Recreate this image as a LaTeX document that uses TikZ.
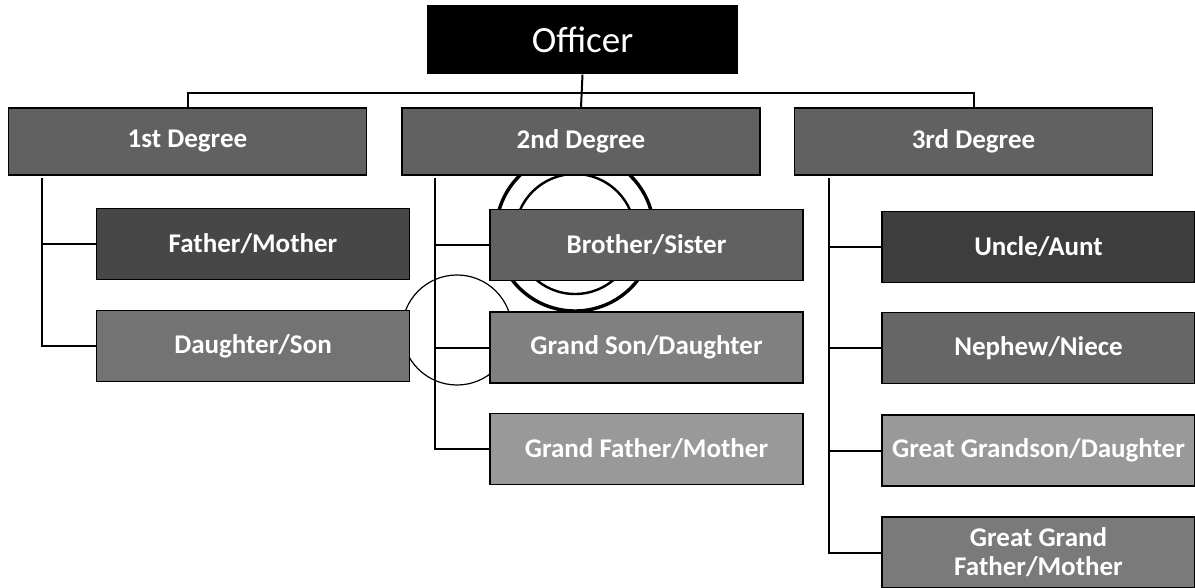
\documentclass[tikz,border=0pt]{standalone}
\usepackage{fontspec}
\setmainfont{Carlito}
\tikzset{
  relbox/.style={draw=black, line width=1.4pt, inner sep=0pt, text=white,
    font=\fontsize{27}{29}\selectfont\bfseries, align=center},
  degbox/.style={relbox, fill=black!62, minimum width=358pt, minimum height=67pt},
  kinbox/.style={relbox, minimum width=313pt, minimum height=71pt},
  link/.style={line width=2pt}
}
\begin{document}
\begin{tikzpicture}[x=1pt, y=-1pt]
      \useasboundingbox (0,0) rectangle (1195,588);
      % highlight circles (behind the boxes)
      \draw[line width=1.2pt] (457,330) circle (55);
      \draw[line width=3.4pt] (575,232) circle (79);
      \draw[line width=2.4pt] (575,234) circle (60);

      \node[fill=black, text=white, minimum width=311pt, minimum height=69pt, inner sep=0pt, font=\fontsize{37}{40}\selectfont] (off) at (582.5,40){Officer};

      \node[degbox] (d1) at (187.5,141.5){1st Degree};
      \node[degbox] (d2) at (581,141.5){2nd Degree};
      \node[degbox] (d3) at (973.5,141.5){3rd Degree};

      \node[kinbox, fill=black!72] (fm) at (253,244){Father/Mother};
      \node[kinbox, fill=black!55] (ds) at (253,346){Daughter/Son};

      \node[kinbox, fill=black!62] (bs) at (646.5,245){Brother/Sister};
      \node[kinbox, fill=black!50] (gsd) at (646.5,347.5){Grand Son/Daughter};
      \node[kinbox, fill=black!40] (gfm) at (646.5,449){Grand Father/Mother};

      \node[kinbox, fill=black!76] (ua) at (1038.5,247){Uncle/Aunt};
      \node[kinbox, fill=black!60] (nn) at (1038.5,348){Nephew/Niece};
      \node[kinbox, fill=black!40] (ggsd) at (1038.5,450.5){Great Grandson/Daughter};
      \node[kinbox, fill=black!52] (ggfm) at (1038.5,552.5){Great Grand\\Father/Mother};

      \coordinate (bus) at (582.5,93);
      \coordinate (b1) at (42,178);
      \coordinate (b2) at (435,178);
      \coordinate (b3) at (829,178);

      \draw[link] (off.south) -- (d2.north);
      \draw[link] (d1.north) |- (bus) -| (d3.north);

      \draw[link] (b1) |- (fm.west);
      \draw[link] (b1) |- (ds.west);

      \draw[link] (b2) |- (bs.west);
      \draw[link] (b2) |- (gsd.west);
      \draw[link] (b2) |- (gfm.west);

      \draw[link] (b3) |- (ua.west);
      \draw[link] (b3) |- (nn.west);
      \draw[link] (b3) |- (ggsd.west);
      \draw[link] (b3) |- (ggfm.west);

    \end{tikzpicture}
\end{document}
